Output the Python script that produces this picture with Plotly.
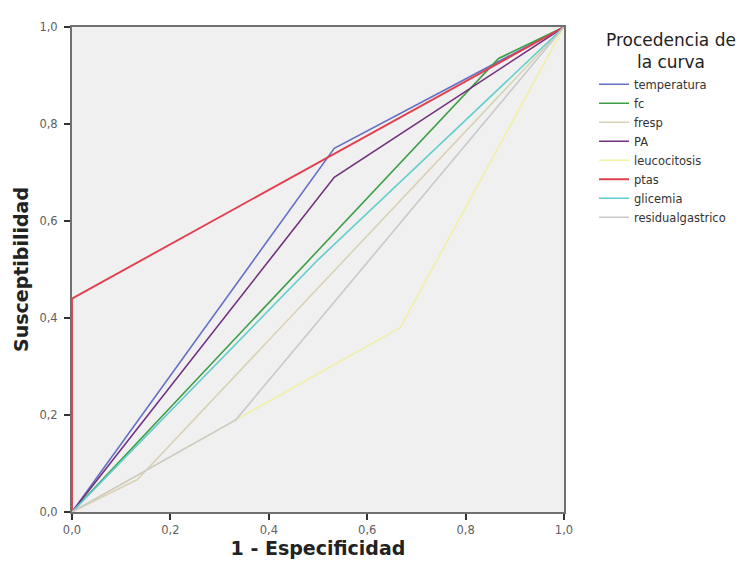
import plotly.graph_objects as go

series_names = ["temperatura", "fc", "fresp", "PA", "leucocitosis", "ptas", "glicemia", "residualgastrico"]
series_x = [
    [0.0, 0.533, 1.0],
    [0.0, 0.867, 1.0],
    [0.0, 0.133, 1.0],
    [0.0, 0.533, 1.0],
    [0.0, 0.667, 1.0],
    [0.0, 0.0, 1.0],
    [0.0, 0.5, 1.0],
    [0.0, 0.333, 1.0],
]
series_y = [
    [0.0, 0.75, 1.0],
    [0.0, 0.935, 1.0],
    [0.0, 0.067, 1.0],
    [0.0, 0.69, 1.0],
    [0.0, 0.38, 1.0],
    [0.0, 0.44, 1.0],
    [0.0, 0.52, 1.0],
    [0.0, 0.19, 1.0],
]
colors = ["#6470c4", "#3d9e45", "#d9d3b5", "#73307f", "#f1efa8", "#e0404f", "#63cccc", "#c9c9c9"]
tick_vals = [0.0, 0.2, 0.4, 0.6, 0.8, 1.0]
tick_text = ["0,0", "0,2", "0,4", "0,6", "0,8", "1,0"]
legend_title = "Procedencia de<br>la curva"

fig = go.Figure()
for name, xs, ys, c in zip(series_names, series_x, series_y, colors):
    fig.add_trace(go.Scatter(x=xs, y=ys, mode="lines", name=name,
                             line=dict(color=c, width=1.9 if name == "ptas" else 1.6),
                             cliponaxis=False))

axis_common = dict(range=[0, 1], tickvals=tick_vals, ticktext=tick_text,
                   showgrid=False, zeroline=False, showline=True, linecolor="#707070",
                   linewidth=2, mirror=True, ticks="outside", ticklen=6, tickwidth=2,
                   tickcolor="#333333", tickfont=dict(family="DejaVu Sans", size=11.5, color="#606060"),
                   layer="below traces")

fig.update_layout(
    width=736, height=562,
    margin=dict(l=63, r=180, t=13, b=58),
    paper_bgcolor="white", plot_bgcolor="#f0f0f0",
    font=dict(family="DejaVu Sans", color="#222222"),
    xaxis=dict(axis_common, title=dict(text="<b>1 - Especificidad</b>", font=dict(size=19), standoff=6)),
    yaxis=dict(axis_common, ticklabelstandoff=4,
               title=dict(text="<b>Susceptibilidad</b>", font=dict(size=19), standoff=6)),
    legend=dict(x=1.061, y=0.912, xanchor="left", yanchor="top",
                font=dict(size=11.5, color="#333333"), itemwidth=30, tracegroupgap=0,
                bgcolor="rgba(0,0,0,0)"),
    showlegend=True,
    annotations=[dict(text=legend_title, x=1.218, y=0.997, xref="paper", yref="paper",
                      xanchor="center", yanchor="top", showarrow=False, align="center",
                      font=dict(size=17, color="#222222"))],
)

fig.write_html("out.html")
